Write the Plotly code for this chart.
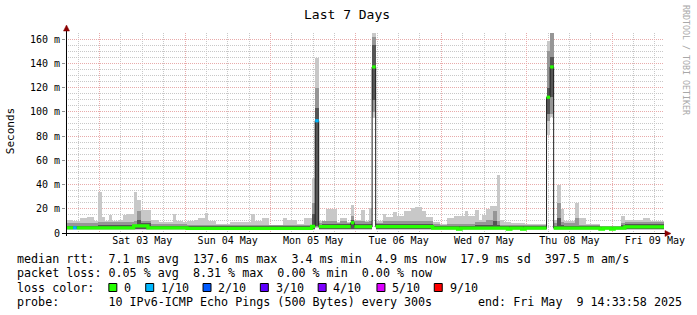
import pandas as pd
import plotly.graph_objects as go

# ---------------- data ----------------
END = pd.Timestamp("2025-05-09 14:33:58")
START = END - pd.Timedelta(days=7)

# hourly values (ms), 168 hours from START
rtt_max = [
    11, 11, 10, 9.6, 12, 12, 13, 13, 10, 33.5, 13, 9.5, 15, 9.5, 9.5, 11, 15, 16, 16, 33.5, 27, 18.6, 18.6, 18.6,
    10.5, 10.5, 9, 9, 9, 9, 16, 10, 10, 9, 10, 10, 10.5, 12, 12, 16.5, 10, 10, 7.4, 7.4, 7.4, 7.4, 9, 9,
    9, 9, 9, 9, 16, 10, 10, 12, 12, 7, 7, 7, 7, 12.5, 10.5, 10.5, 10.5, 7.5, 7.5, 12.5, 12.5, 45, 144, 10,
    10, 20, 20, 20, 9, 12.5, 12.5, 9, 23, 11, 11, 18.6, 10, 20.6, 170, 9.5, 9.5, 16, 13.5, 13.5, 17, 14, 14, 17.8,
    17.8, 20.6, 21.6, 21.6, 17.8, 13.5, 13.5, 9, 9, 7.5, 7.5, 12.5, 12.5, 14, 14, 14, 17.8, 14, 14, 18.6, 11, 15, 19.6, 22.5,
    22.5, 48, 11, 9, 9, 8.2, 8.2, 8.2, 8.2, 7.5, 7.5, 7.5, 7.5, 7.5, 7.5, 158, 170, 11, 40, 20, 9.5, 9.5, 9.5, 25,
    12.5, 12.5, 7.5, 7.5, 7.5, 7.5, 6, 6, 6, 6, 6, 6, 14, 10.5, 10.5, 10.5, 10.5, 10.5, 12, 12, 9.5, 9.5, 9.5, 9.5,
]
rtt_mid_hi = [
    8, 8, 8, 8, 8, 8, 8, 8, 8, 9, 9, 9, 9, 9, 9, 9, 9, 9, 9, 10, 18, 10, 10, 10,
    7.5, 7.5, 7.5, 7.5, 7.5, 7.5, 7.5, 7.5, 7.5, 7.5, 7, 7, 7, 7, 7, 7, 7, 7, 7, 7, 7, 7, 7, 7,
    7, 7, 7, 7, 7, 7, 7, 7, 7, 7, 7, 7, 7, 7, 7, 7, 7, 7, 7, 7, 7, 25, 120, 8,
    10, 10, 10, 10, 8, 10, 10, 8, 14, 10, 10, 10, 9, 10, 162, 8, 8, 10, 10, 10, 10, 10, 10, 10,
    10, 10, 10, 10, 10, 10, 10, 7.5, 7.5, 7, 7, 7.5, 7.5, 7.5, 7.5, 7.5, 7.5, 7.5, 7.5, 9, 9, 9, 11, 11,
    18, 10, 7, 7, 7, 7, 7, 7, 7, 7, 7, 7, 7, 7, 7, 150, 165, 8, 25, 9, 8, 8, 8, 12,
    7, 7, 7, 7, 7, 7, 5.8, 5.8, 5.8, 5.8, 5.8, 5.8, 8, 9, 9, 9, 9, 9, 9, 9, 9, 9, 9, 9,
]
rtt_dark_hi = [
    6, 6, 6, 6, 6, 6, 6, 6, 6, 7, 7, 7, 7, 7, 7, 7, 7, 7, 7, 7, 11, 8, 8, 8,
    6, 6, 6, 6, 6, 6, 6, 6, 6, 6, 5.5, 5.5, 5.5, 5.5, 5.5, 5.5, 5.5, 5.5, 5.5, 5.5, 5.5, 5.5, 5.5, 5.5,
    5.5, 5.5, 5.5, 5.5, 5.5, 5.5, 5.5, 5.5, 5.5, 5.5, 5.5, 5.5, 5.5, 5.5, 5.5, 5.5, 5.5, 5.5, 5.5, 5.5, 5.5, 16, 103, 7,
    7.5, 7.5, 7.5, 7.5, 7.5, 7.5, 7.5, 7.5, 11, 7.5, 7.5, 7.5, 7.5, 7.5, 155, 7.5, 7.5, 7.5, 7.5, 7.5, 7.5, 7.5, 7.5, 7.5,
    7.5, 7.5, 7.5, 7.5, 7.5, 7.5, 7.5, 6, 6, 6, 6, 6, 6, 6, 6, 6, 6, 6, 6, 7, 7, 7, 7, 7,
    9.5, 7, 5.5, 5.5, 5.5, 5.5, 5.5, 5.5, 5.5, 5.5, 5.5, 5.5, 5.5, 5.5, 5.5, 120, 145, 6, 12, 7, 6, 6, 6, 6,
    5.5, 5.5, 5.5, 5.5, 5.5, 5.5, 5.2, 5.2, 5.2, 5.2, 5.2, 5.2, 7, 7.5, 7.5, 7.5, 7.5, 7.5, 7.5, 7.5, 7.5, 7.5, 7.5, 7.5,
]
rtt_median = [
    4.3, 4.3, 4.3, 4.3, 4.3, 4.3, 4.3, 4.3, 4.3, 4.3, 4.3, 4.3, 4.3, 4.3, 4.3, 4.3, 4.3, 4.3, 4.3, 5.8, 5.8, 5.8, 5.8, 4.3,
    4.3, 4.3, 4.3, 4.3, 4.3, 4.3, 4.3, 4.3, 4.3, 4.3, 3.8, 3.8, 3.8, 3.8, 3.8, 3.8, 3.8, 3.8, 3.8, 3.8, 3.8, 3.8, 3.8, 3.8,
    3.8, 3.8, 3.8, 3.8, 3.8, 3.8, 3.8, 3.8, 3.8, 3.8, 3.8, 3.8, 3.8, 3.8, 3.8, 3.8, 3.8, 3.8, 3.8, 3.8, 3.8, 5.5, 92.6, 5.2,
    5.2, 5.2, 5.2, 5.2, 5.2, 5.2, 5.2, 5.2, 8.5, 5.2, 5.2, 5.2, 5.2, 5.2, 137, 5.3, 5.3, 5.3, 5.3, 5.3, 5.3, 5.3, 5.3, 5.3,
    5.3, 5.3, 5.3, 5.3, 5.3, 5.3, 5.3, 4.0, 4.0, 4.0, 4.0, 4.0, 4.0, 4.0, 3.2, 4.0, 4.0, 4.0, 4.0, 4.0, 4.0, 4.0, 4.0, 4.0,
    4.0, 4.0, 4.0, 4.0, 3.2, 4.0, 4.0, 4.0, 3.2, 4.0, 4.0, 4.0, 4.0, 4.0, 4.0, 112, 137, 4.0, 4.0, 4.0, 4.0, 4.0, 4.0, 4.0,
    4.0, 4.0, 4.0, 4.0, 4.0, 4.0, 3.2, 4.0, 4.0, 3.2, 4.0, 4.0, 4.0, 5.0, 5.0, 5.0, 5.0, 5.0, 5.0, 5.0, 5.0, 5.0, 5.0, 5.0,
]
loss_tenths = [
    0, 0, 1, 0, 0, 0, 0, 0, 0, 0, 0, 0, 0, 0, 0, 0, 0, 0, 0, 0, 0, 0, 0, 0,
    0, 0, 0, 0, 0, 0, 0, 0, 0, 0, 0, 0, 0, 0, 0, 0, 0, 0, 0, 0, 0, 0, 0, 0,
    0, 0, 0, 0, 0, 0, 0, 0, 0, 0, 0, 0, 0, 0, 0, 0, 0, 0, 0, 0, 0, 0, 1, 0,
    0, 0, 0, 0, 0, 0, 0, 0, 0, 0, 0, 0, 0, 0, 0, 0, 0, 0, 0, 0, 0, 0, 0, 0,
    0, 0, 0, 0, 0, 0, 0, 0, 0, 0, 0, 0, 0, 0, 0, 0, 0, 0, 0, 0, 0, 0, 0, 0,
    0, 0, 0, 0, 0, 0, 0, 0, 0, 0, 0, 0, 0, 0, 0, 0, 0, 0, 0, 0, 0, 0, 0, 0,
    0, 0, 0, 0, 0, 0, 0, 0, 0, 0, 0, 0, 0, 0, 0, 0, 0, 0, 0, 0, 0, 0, 0, 0,
]
# lower edges of the smoke bands (min, mid_lo, dark_lo); defaults + spike hours
low_default = (2.6, 3.0, 3.4)
spike_lows = {70: (4, 5, 6), 86: (95, 100, 110), 135: (81, 92, 98), 136: (96, 98, 112)}

y_tick_values = [0, 20, 40, 60, 80, 100, 120, 140, 160]
y_tick_labels = ["0", "20 m", "40 m", "60 m", "80 m", "100 m", "120 m", "140 m", "160 m"]

loss_levels = [0, 1, 2, 3, 4, 5, 9]
loss_labels = ["0", "1/10", "2/10", "3/10", "4/10", "5/10", "9/10"]
loss_colors = ["#26ff00", "#00b8ff", "#0059ff", "#5e00ff", "#7e00ff", "#dd00ff", "#ff0000"]

legend_lines = [
    "median rtt:  7.1 ms avg  137.6 ms max  3.4 ms min  4.9 ms now  17.9 ms sd  397.5 m am/s",
    "packet loss: 0.05 % avg  8.31 % max  0.00 % min  0.00 % now",
]
probe_text = "probe:       10 IPv6-ICMP Echo Pings (500 Bytes) every 300s"
end_text = "end: Fri May  9 14:33:58 2025"

# ---------------- layout helpers ----------------
W, H = 697, 315
PL, PR, PT, PB = 66, 31, 33, 82
PW, PH = W - PL - PR, H - PT - PB
MONO = "DejaVu Sans Mono"


def px(x):
    return (x - PL) / PW


def py(y):
    return (PT + PH - y) / PH


def nb(s):
    return s.replace(" ", "\u00a0")


n = len(rtt_max)
starts = [START + pd.Timedelta(hours=h) for h in range(n)]
centers = [s + pd.Timedelta(minutes=30) for s in starts]
rtt_min = [spike_lows.get(h, low_default)[0] for h in range(n)]
rtt_mid_lo = [spike_lows.get(h, low_default)[1] for h in range(n)]
rtt_dark_lo = [spike_lows.get(h, low_default)[2] for h in range(n)]

fig = go.Figure()
for lo, hi, col in [
    (rtt_min, rtt_max, "#c8c8c8"),
    (rtt_mid_lo, rtt_mid_hi, "#969696"),
    (rtt_dark_lo, rtt_dark_hi, "#555555"),
]:
    fig.add_trace(go.Bar(
        x=centers, y=[b - a for a, b in zip(lo, hi)], base=lo,
        width=3600 * 1000, marker=dict(color=col, line=dict(width=0)),
        hoverinfo="skip", showlegend=False,
    ))

# thin median line
fig.add_trace(go.Scatter(
    x=starts + [END], y=rtt_median + [rtt_median[-1]], mode="lines",
    line=dict(color="#202020", width=1, shape="hv"), hoverinfo="skip", showlegend=False,
))

# loss-coloured median bands
for lvl, col in zip(loss_levels, loss_colors):
    xs, ys = [], []
    seg_x, seg_y = [], []
    for h in range(n):
        ok = loss_tenths[h] == lvl
        if ok and seg_y and abs(rtt_median[h] - seg_y[-1]) > 3:
            xs += seg_x + [starts[h], None]
            ys += seg_y + [seg_y[-1], None]
            seg_x, seg_y = [], []
        if ok:
            seg_x.append(starts[h])
            seg_y.append(rtt_median[h])
        elif seg_y:
            xs += seg_x + [starts[h], None]
            ys += seg_y + [seg_y[-1], None]
            seg_x, seg_y = [], []
    if seg_y:
        xs += seg_x + [END, None]
        ys += seg_y + [seg_y[-1], None]
    if xs:
        fig.add_trace(go.Scatter(
            x=xs, y=ys, mode="lines", connectgaps=False,
            line=dict(color=col, width=3.2, shape="hv"), hoverinfo="skip", showlegend=False,
        ))

major_grid = "#e8abab"
minor_grid = "#c8c8c8"

fig.update_layout(
    width=W, height=H,
    margin=dict(l=PL, r=PR, t=PT, b=PB, pad=0),
    paper_bgcolor="white", plot_bgcolor="white",
    barmode="overlay", bargap=0,
    showlegend=False,
    font=dict(family=MONO, size=10, color="black"),
    xaxis=dict(
        type="date", range=[START, END],
        tick0="2025-05-03", dtick=86400000, tickformat="%a %d %b",
        ticklabelmode="period", ticks="", showline=False, zeroline=False,
        showgrid=True, gridcolor=major_grid, griddash="1px,1px", gridwidth=1,
        minor=dict(dtick=6 * 3600000, showgrid=True, gridcolor=minor_grid, griddash="1px,1px", ticks=""),
        tickfont=dict(family=MONO, size=10, color="black"),
        fixedrange=True,
    ),
    yaxis=dict(
        range=[0, 165], tickvals=y_tick_values, ticktext=y_tick_labels,
        ticks="outside", ticklen=3, tickcolor="#909090", showline=False, zeroline=False,
        showgrid=True, gridcolor=major_grid, griddash="1px,1px", gridwidth=1,
        minor=dict(dtick=5, tick0=0, showgrid=True, gridcolor=minor_grid, griddash="1px,1px", ticks=""),
        tickfont=dict(family=MONO, size=10, color="black"),
        fixedrange=True,
    ),
)

shapes = [
    # axis lines
    dict(type="line", xref="paper", yref="paper", x0=px(62), x1=px(668), y0=py(233.5), y1=py(233.5),
         line=dict(color="black", width=1)),
    dict(type="line", xref="paper", yref="paper", x0=px(66.5), x1=px(66.5), y0=py(236), y1=py(30),
         line=dict(color="black", width=1)),
    # arrow heads
    dict(type="path", xref="paper", yref="paper",
         path=f"M {px(63.5)},{py(31)} L {px(66.5)},{py(25)} L {px(69.5)},{py(31)} Z",
         fillcolor="#8b0000", line=dict(color="#8b0000", width=0.5)),
    dict(type="path", xref="paper", yref="paper",
         path=f"M {px(667)},{py(230.5)} L {px(673)},{py(233.5)} L {px(667)},{py(236.5)} Z",
         fillcolor="#8b0000", line=dict(color="#8b0000", width=0.5)),
]

annotations = [
    dict(text=nb("Last 7 Days"), x=px(348), y=py(14), xref="paper", yref="paper",
         showarrow=False, xanchor="center", yanchor="middle", font=dict(family=MONO, size=13, color="black")),
    dict(text="Seconds", x=px(10), y=py(131), xref="paper", yref="paper", textangle=-90,
         showarrow=False, xanchor="center", yanchor="middle", font=dict(family=MONO, size=11, color="black")),
    dict(text=nb("RRDTOOL / TOBI OETIKER"), x=px(688), y=py(60), xref="paper", yref="paper", textangle=90,
         showarrow=False, xanchor="center", yanchor="middle", font=dict(family=MONO, size=8.3, color="#a8a8a8")),
]

LEG_FONT = dict(family=MONO, size=11.7, color="black")
row_y = [259, 273, 287.5, 301.5]
for i, line in enumerate(legend_lines):
    annotations.append(dict(text=nb(line), x=px(16), y=py(row_y[i]), xref="paper", yref="paper",
                            showarrow=False, xanchor="left", yanchor="middle", font=LEG_FONT, borderpad=0))
annotations.append(dict(text=nb("loss color:"), x=px(16), y=py(row_y[2]), xref="paper", yref="paper",
                        showarrow=False, xanchor="left", yanchor="middle", font=LEG_FONT, borderpad=0))
box_left = [109, 146, 203.5, 261, 319, 378, 435.5]
label_left = [123, 160, 218, 275.5, 333, 392, 450]
for bl, ll, lab, col in zip(box_left, label_left, loss_labels, loss_colors):
    shapes.append(dict(type="rect", xref="paper", yref="paper",
                       x0=px(bl), x1=px(bl + 8), y0=py(row_y[2] + 4), y1=py(row_y[2] - 4),
                       fillcolor=col, line=dict(color="black", width=1)))
    annotations.append(dict(text=nb(lab), x=px(ll), y=py(row_y[2]), xref="paper", yref="paper",
                            showarrow=False, xanchor="left", yanchor="middle", font=LEG_FONT, borderpad=0))
annotations.append(dict(text=nb(probe_text), x=px(16), y=py(row_y[3]), xref="paper", yref="paper",
                        showarrow=False, xanchor="left", yanchor="middle", font=LEG_FONT, borderpad=0))
annotations.append(dict(text=nb(end_text), x=px(478), y=py(row_y[3]), xref="paper", yref="paper",
                        showarrow=False, xanchor="left", yanchor="middle", font=LEG_FONT, borderpad=0))

fig.update_layout(shapes=shapes, annotations=annotations)
fig.write_html("out.html", config={"displayModeBar": False})
